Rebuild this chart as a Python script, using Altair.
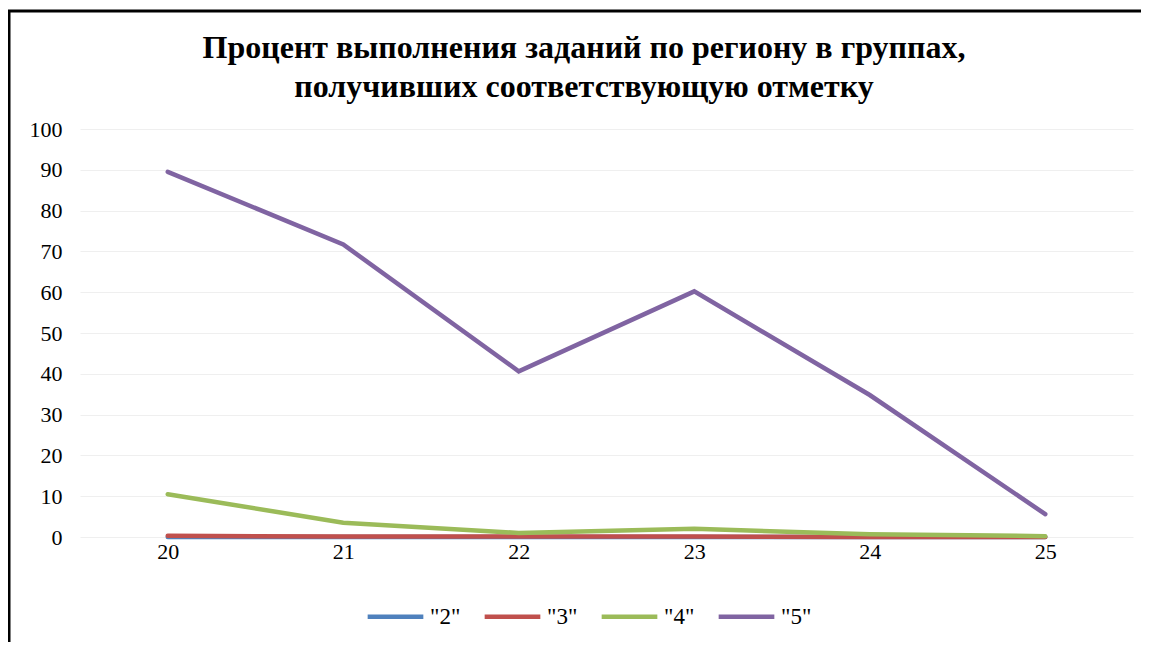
import altair as alt
import pandas as pd

tasks = ["20", "21", "22", "23", "24", "25"]
series_names = ['"2"', '"3"', '"4"', '"5"']
grade2 = [0.0, 0.0, 0.0, 0.0, 0.0, 0.0]
grade3 = [0.3, 0.1, 0.1, 0.1, 0.0, 0.0]
grade4 = [10.5, 3.5, 1.0, 2.0, 0.7, 0.2]
grade5 = [89.5, 71.7, 40.6, 60.2, 34.8, 5.6]
colors = ["#4F81BD", "#C0504D", "#9BBB59", "#8064A2"]
title_lines = ["Процент  выполнения заданий по региону в группах,",
               "получивших соответствующую  отметку"]

rows = []
for name, vals in zip(series_names, [grade2, grade3, grade4, grade5]):
    for t, v in zip(tasks, vals):
        rows.append({"task": t, "value": v, "series": name})
df = pd.DataFrame(rows)

FONT = "Liberation Serif"

lines = alt.Chart(df).mark_line(strokeWidth=4.5, strokeCap="round").encode(
    x=alt.X("task:N", sort=tasks, title=None,
            scale=alt.Scale(type="point", padding=0.5),
            axis=alt.Axis(labelAngle=0, labelFont=FONT, labelFontSize=22,
                          labelColor="#000000", labelPadding=4,
                          domain=False, ticks=False, grid=False)),
    y=alt.Y("value:Q", title=None,
            scale=alt.Scale(domain=[0, 100], nice=False),
            axis=alt.Axis(values=list(range(0, 101, 10)), labelFont=FONT,
                          labelFontSize=22, labelColor="#000000",
                          labelPadding=18, domain=False, ticks=False,
                          grid=True, gridColor="#efefef", gridWidth=1)),
    color=alt.Color("series:N", sort=series_names,
                    scale=alt.Scale(domain=series_names, range=colors),
                    legend=alt.Legend(orient="none", legendX=285, legendY=457,
                                      direction="horizontal",
                                      title=None, symbolType="stroke",
                                      symbolStrokeWidth=4.5, symbolSize=3100,
                                      labelFont=FONT, labelFontSize=23,
                                      labelColor="#000000", columnPadding=14,
                                      labelOffset=4)),
    order=alt.Order("series:N"),
)

one = pd.DataFrame({"k": [0]})

title1 = alt.Chart(pd.DataFrame({"txt": [title_lines[0]]})).mark_text(
    font=FONT, fontSize=32, fontWeight="bold",
    color="#000000", align="center", baseline="alphabetic").encode(
    text="txt:N", x=alt.value(504), y=alt.value(-71))
title2 = alt.Chart(pd.DataFrame({"txt": [title_lines[1]]})).mark_text(
    font=FONT, fontSize=32, fontWeight="bold",
    color="#000000", align="center", baseline="alphabetic").encode(
    text="txt:N", x=alt.value(504), y=alt.value(-32))

frame_left = alt.Chart(one).mark_rule(color="#000000", strokeWidth=3).encode(
    x=alt.value(-71), y=alt.value(-119), y2=alt.value(530))
frame_top = alt.Chart(one).mark_rule(color="#000000", strokeWidth=3).encode(
    x=alt.value(-72), x2=alt.value(1080), y=alt.value(-118))

chart = alt.layer(lines, title1, title2, frame_left, frame_top).properties(
    width=1053, height=408,
    background="#ffffff",
    autosize=alt.AutoSizeParams(type="none"),
    padding={"left": 72, "top": 121, "right": 8, "bottom": 105},
).configure_view(stroke=None)

chart.save("out.html", embed_options={"renderer": "svg", "actions": False})
